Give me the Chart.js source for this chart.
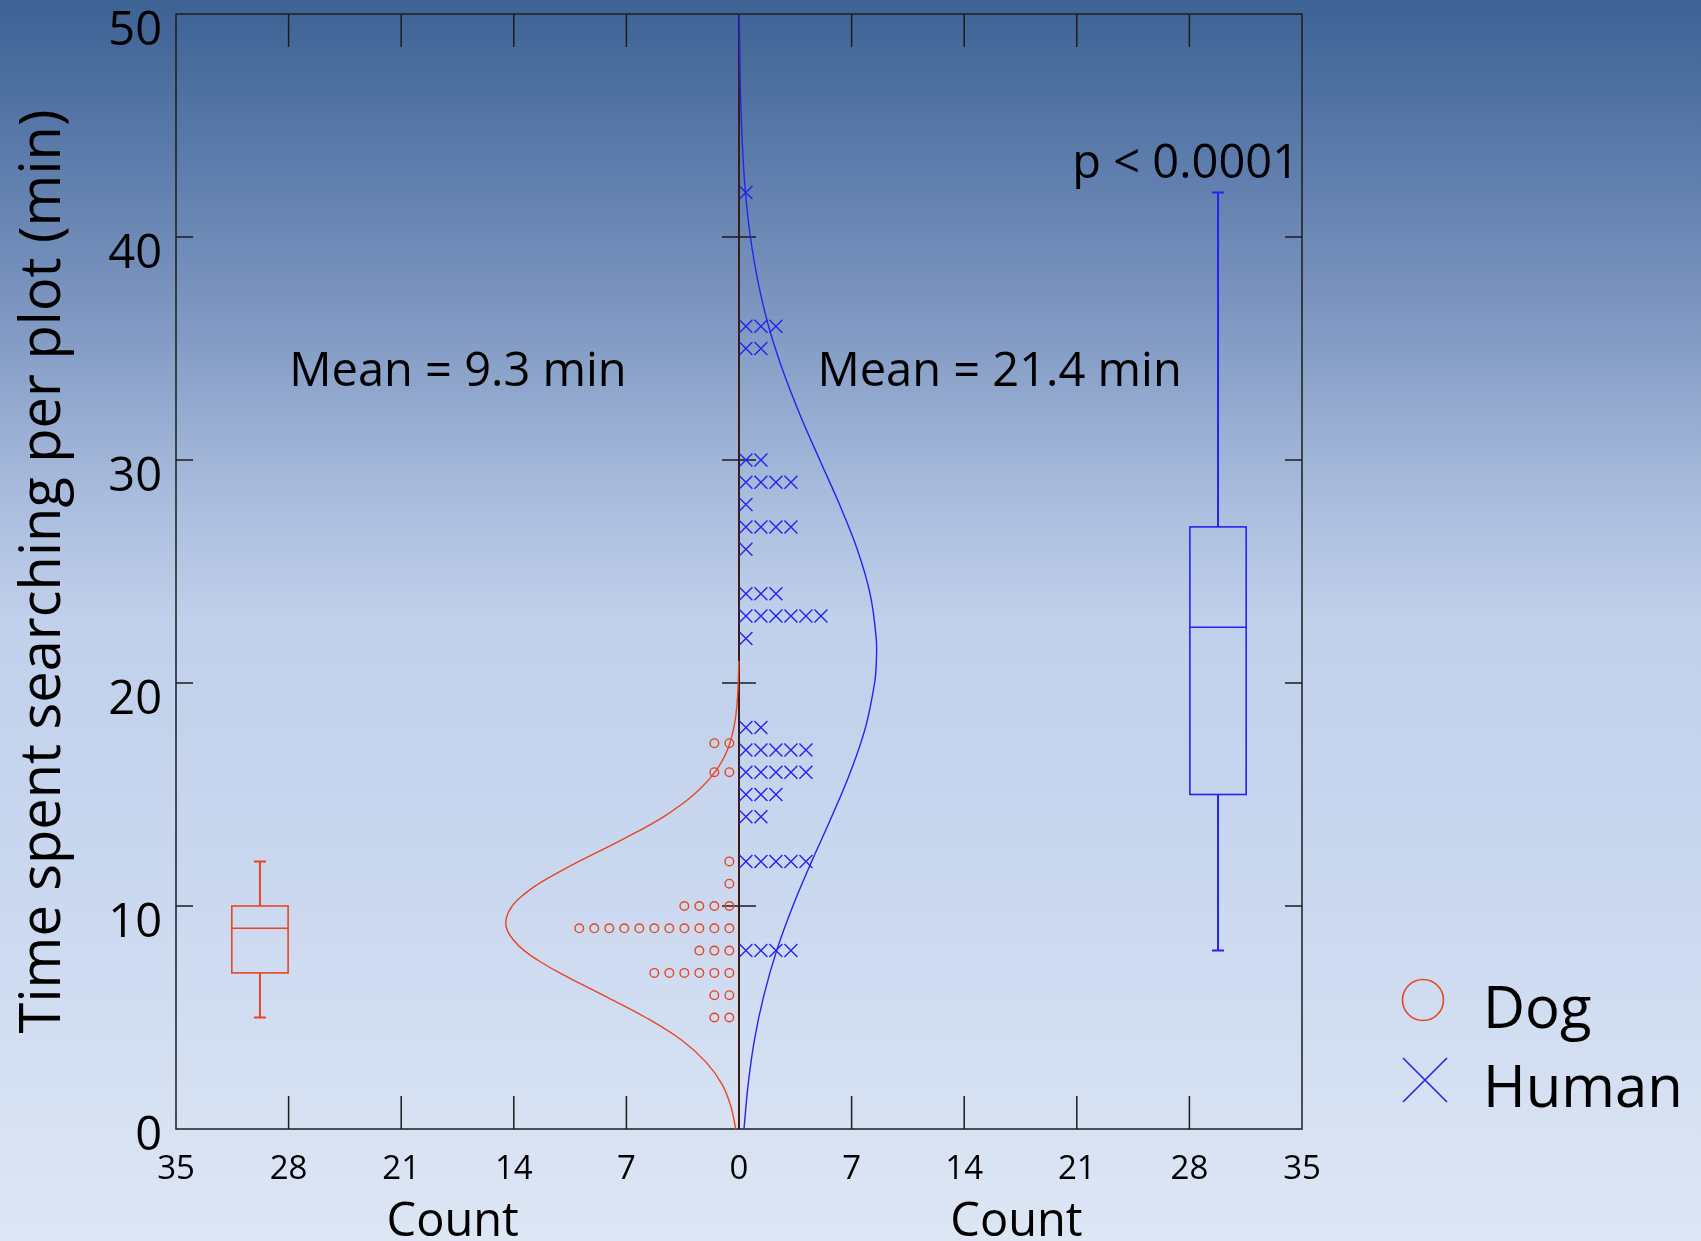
<!DOCTYPE html>
<html><head><meta charset="utf-8">
<script src="https://cdn.jsdelivr.net/npm/chart.js@4.4.1/dist/chart.umd.min.js"></script>
<style>html,body{margin:0;padding:0;overflow:hidden;background:#c5d3ec}canvas{display:block}</style>
</head><body>
<canvas id="c" width="1701" height="1241"></canvas>
<script>
// ---------- data ----------
const groups = ['Dog', 'Human'];
const dogTimes  = [5, 6, 7, 8, 9, 10, 11, 12, 16, 17.3];
const dogCounts = [2, 2, 6, 3, 11, 4, 1, 1, 2, 2];
const humanTimes  = [8, 12, 14, 15, 16, 17, 18, 22, 23, 24, 26, 27, 28, 29, 30, 35, 36, 42];
const humanCounts = [4, 5, 2, 3, 5, 5, 2, 1, 6, 3, 1, 4, 1, 4, 2, 2, 3, 1];
const dogCurveTimes  = [0, 1, 2, 3, 4, 5, 6, 6.5, 7, 7.5, 8, 8.5, 9, 9.5, 10, 10.5, 11, 11.5, 12, 13, 14, 15, 16, 17, 18, 19, 20, 21];
const dogCurveCounts = [0.2, 0.5, 1.05, 2.05, 3.6, 5.8, 8.45, 9.8, 11.15, 12.35, 13.35, 14.05, 14.45, 14.45, 14.1, 13.4, 12.45, 11.25, 9.95, 7.2, 4.7, 2.8, 1.5, 0.72, 0.32, 0.13, 0.05, 0.01];
const humanCurveTimes  = [0, 2, 4, 6, 8, 10, 12, 14, 16, 18, 20, 21, 22, 24, 26, 28, 30, 32, 34, 36, 38, 40, 42, 44, 46, 48, 50];
const humanCurveCounts = [0.31, 0.57, 0.96, 1.55, 2.34, 3.35, 4.52, 5.76, 6.92, 7.86, 8.43, 8.54, 8.53, 8.15, 7.35, 6.25, 5.02, 3.81, 2.73, 1.84, 1.18, 0.71, 0.40, 0.22, 0.11, 0.05, 0.02];
// box plot stats: min, q1, median, q3, max
const dogBox   = [5, 7, 9, 10, 12];
const humanBox = [8, 15, 22.5, 27, 42];
const countTicks = [-35, -28, -21, -14, -7, 0, 7, 14, 21, 28, 35];
const timeTicks  = [0, 10, 20, 30, 40, 50];
const meanLabels = ['Mean = 9.3 min', 'Mean = 21.4 min'];
const pLabel = 'p < 0.0001';

// ---------- layout / style constants ----------
const FONT = "'Open Sans', 'Noto Sans', sans-serif";
const DOG_C = '#e8461f';
const HUM_C = '#2424ee';
const markerStep = 0.933;
const dogOffset = 0.6, humanOffset = 0.43;
const boxCenter = 29.78, boxHalf = 1.75;

function markerPoints(times, counts, sign, offset) {
  const pts = [];
  times.forEach((t, k) => {
    for (let i = 0; i < counts[k]; i++) pts.push({x: sign * (offset + i * markerStep), y: t});
  });
  return pts;
}
function curvePoints(times, counts, sign) {
  return times.map((t, i) => ({x: sign * counts[i], y: t}));
}

const bgPlugin = {
  id: 'bg',
  beforeDraw(chart) {
    const ctx = chart.ctx, h = chart.height, w = chart.width;
    const g = ctx.createLinearGradient(0, 0, 0, h);
    g.addColorStop(0, '#3d6294');
    g.addColorStop(0.12, '#5a7aaa');
    g.addColorStop(0.25, '#7d96c0');
    g.addColorStop(0.4, '#a9bcdd');
    g.addColorStop(0.5, '#c1d0eb');
    g.addColorStop(0.7, '#c9d7ef');
    g.addColorStop(1, '#dde6f4');
    ctx.save(); ctx.fillStyle = g; ctx.fillRect(0, 0, w, h); ctx.restore();
    // shift '0' y label slightly up
    const ys = chart.scales.y;
    const items = ys.getLabelItems();
    items.forEach(it => { if (String(it.label) === '0' && !it._shifted) { it.options.translation[1] -= 10; it._shifted = true; } });
  }
};

const framePlugin = {
  id: 'frame',
  beforeDatasetsDraw(chart) {
    const ctx = chart.ctx, xs = chart.scales.x, ys = chart.scales.y;
    const L = xs.left, R = xs.right, T = ys.top, B = ys.bottom;
    const x0 = xs.getPixelForValue(0);
    ctx.save();
    ctx.strokeStyle = '#1c1c1c'; ctx.lineWidth = 1.5;
    ctx.strokeRect(L, T, R - L, B - T);
    ctx.beginPath();
    countTicks.forEach(v => {
      const px = xs.getPixelForValue(v);
      if (v === -35 || v === 35) return;
      ctx.moveTo(px, B); ctx.lineTo(px, B - 33);
      if (v !== 0) { ctx.moveTo(px, T); ctx.lineTo(px, T + 33); }
    });
    timeTicks.forEach(v => {
      if (v === 0 || v === 50) return;
      const py = ys.getPixelForValue(v);
      ctx.moveTo(L, py); ctx.lineTo(L + 17, py);
      ctx.moveTo(R, py); ctx.lineTo(R - 17, py);
      ctx.moveTo(x0 - 17, py); ctx.lineTo(x0 + 17, py);
    });
    ctx.stroke();
    // centre line
    ctx.strokeStyle = '#3a1c12'; ctx.lineWidth = 2;
    ctx.beginPath(); ctx.moveTo(x0, T); ctx.lineTo(x0, B); ctx.stroke();
    // box plots
    [[dogBox, -1, DOG_C], [humanBox, 1, HUM_C]].forEach(([b, s, col]) => {
      const cx = xs.getPixelForValue(s * boxCenter);
      const xa = xs.getPixelForValue(s * (boxCenter - boxHalf));
      const xb = xs.getPixelForValue(s * (boxCenter + boxHalf));
      const left = Math.min(xa, xb), right = Math.max(xa, xb);
      const [mn, q1, md, q3, mx] = b.map(v => ys.getPixelForValue(v));
      ctx.strokeStyle = col; ctx.lineWidth = 1.6;
      ctx.strokeRect(left, q3, right - left, q1 - q3);
      ctx.beginPath();
      ctx.moveTo(left, md); ctx.lineTo(right, md);
      ctx.stroke();
      ctx.lineWidth = 2;
      ctx.beginPath();
      ctx.moveTo(cx, q3); ctx.lineTo(cx, mx);
      ctx.moveTo(cx, q1); ctx.lineTo(cx, mn);
      ctx.moveTo(cx - 6, mx); ctx.lineTo(cx + 6, mx);
      ctx.moveTo(cx - 6, mn); ctx.lineTo(cx + 6, mn);
      ctx.stroke();
    });
    ctx.restore();
  },
  afterDraw(chart) {
    const ctx = chart.ctx, xs = chart.scales.x, ys = chart.scales.y;
    ctx.save();
    ctx.fillStyle = '#000';
    ctx.textBaseline = 'alphabetic';
    ctx.font = '47px ' + FONT;
    ctx.textAlign = 'center';
    ctx.fillText(meanLabels[0], xs.getPixelForValue(-17.47), ys.getPixelForValue(33.33));
    ctx.fillText(meanLabels[1], xs.getPixelForValue(16.2), ys.getPixelForValue(33.33));
    ctx.textAlign = 'right';
    ctx.fillText(pLabel, 1299, 178);
    ctx.textAlign = 'center';
    ctx.fillText('Count', xs.getPixelForValue(-17.8), 1236);
    ctx.fillText('Count', xs.getPixelForValue(17.25), 1236);
    // legend
    ctx.lineWidth = 1.6;
    ctx.strokeStyle = DOG_C;
    ctx.beginPath(); ctx.arc(1423, 1000, 20.5, 0, Math.PI * 2); ctx.stroke();
    ctx.strokeStyle = HUM_C;
    ctx.beginPath();
    ctx.moveTo(1403, 1058); ctx.lineTo(1447, 1102);
    ctx.moveTo(1447, 1058); ctx.lineTo(1403, 1102);
    ctx.stroke();
    ctx.fillStyle = '#000';
    ctx.textAlign = 'left';
    ctx.font = '58px ' + FONT;
    ctx.fillText(groups[0], 1483, 1028);
    ctx.fillText(groups[1], 1483, 1107);
    ctx.restore();
  }
};

new Chart(document.getElementById('c'), {
  type: 'scatter',
  data: {
    datasets: [
      {label: groups[0] + ' fit', data: curvePoints(dogCurveTimes, dogCurveCounts, -1), showLine: true, borderColor: DOG_C, borderWidth: 1.4, pointRadius: 0, tension: 0.4, fill: false},
      {label: groups[1] + ' fit', data: curvePoints(humanCurveTimes, humanCurveCounts, 1), showLine: true, borderColor: HUM_C, borderWidth: 1.4, pointRadius: 0, tension: 0.4, fill: false},
      {label: groups[0], data: markerPoints(dogTimes, dogCounts, -1, dogOffset), pointStyle: 'circle', pointRadius: 4.3, pointBorderWidth: 1.4, borderColor: DOG_C, backgroundColor: 'rgba(0,0,0,0)', showLine: false},
      {label: groups[1], data: markerPoints(humanTimes, humanCounts, 1, humanOffset), pointStyle: 'crossRot', pointRadius: 9.2, pointBorderWidth: 1.4, borderColor: HUM_C, backgroundColor: HUM_C, showLine: false}
    ]
  },
  options: {
    responsive: false,
    devicePixelRatio: 1,
    animation: false,
    layout: {padding: {left: 0, top: 14, right: 399, bottom: 0}},
    plugins: {legend: {display: false}, tooltip: {enabled: false}},
    scales: {
      x: {
        type: 'linear', min: -35, max: 35,
        afterBuildTicks(s) { s.ticks = countTicks.map(v => ({value: v})); },
        ticks: {callback: v => String(Math.abs(v)), font: {family: FONT, size: 33}, color: '#000', padding: 21, maxRotation: 0, autoSkip: false},
        grid: {display: false, drawTicks: false}, border: {display: false},
        afterFit(s) { s.height = 112; s.paddingLeft = 0; s.paddingRight = 0; }
      },
      y: {
        type: 'linear', min: 0, max: 50,
        afterBuildTicks(s) { s.ticks = timeTicks.map(v => ({value: v})); },
        ticks: {font: {family: FONT, size: 47}, color: '#000', padding: 14, labelOffset: 18, autoSkip: false},
        grid: {display: false, drawTicks: false}, border: {display: false},
        title: {display: true, text: 'Time spent searching per plot (min)', font: {family: FONT, size: 56}, color: '#000', padding: {top: 10, bottom: 0}},
        afterFit(s) { s.width = 176; s.paddingTop = 0; s.paddingBottom = 0; }
      }
    }
  },
  plugins: [bgPlugin, framePlugin]
});
</script>
</body></html>
